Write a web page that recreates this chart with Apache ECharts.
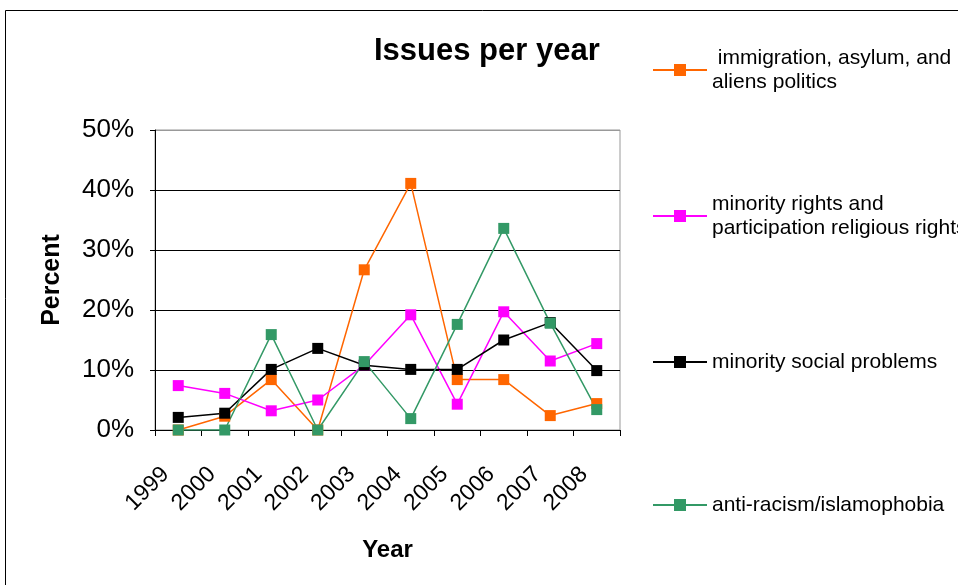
<!DOCTYPE html>
<html>
<head>
<meta charset="utf-8">
<script src="https://cdn.jsdelivr.net/npm/echarts@6/dist/echarts.min.js"></script>
<style>
  html, body { margin: 0; padding: 0; background: #fff; }
  #chart { width: 958px; height: 585px; }
</style>
</head>
<body>
<div id="chart"></div>
<script>
// Share of issues per year, in percent
const years = ['1999', '2000', '2001', '2002', '2003', '2004', '2005', '2006', '2007', '2008'];
const immigration = [0, 2.3, 8.4, 0, 26.7, 41.1, 8.4, 8.4, 2.4, 4.4];
const minorityRights = [7.4, 6.1, 3.2, 5.0, 10.8, 19.2, 4.3, 19.7, 11.5, 14.4];
const socialProblems = [2.1, 2.8, 10.1, 13.6, 10.8, 10.1, 10.1, 15.0, 17.9, 9.9];
const antiRacism = [0, 0, 15.9, 0, 11.4, 1.9, 17.6, 33.6, 17.8, 3.4];
const yTicks = [0, 10, 20, 30, 40, 50];

const seriesDefs = [
  { name: 'immigration, asylum, and aliens politics', label: '\u00a0immigration, asylum, and\naliens politics', data: immigration, color: '#FF6600' },
  { name: 'minority rights and participation religious rights', label: 'minority rights and\nparticipation religious rights', data: minorityRights, color: '#FF00FF' },
  { name: 'minority social problems', label: 'minority social problems', data: socialProblems, color: '#000000' },
  { name: 'anti-racism/islamophobia', label: 'anti-racism/islamophobia', data: antiRacism, color: '#339966' }
];

const font = 'Liberation Sans, Arial, sans-serif';
const legendCenters = [70, 216, 362, 505];
const lh = 24;

const chart = echarts.init(document.getElementById('chart'), null, { renderer: 'canvas' });

chart.setOption({
  animation: false,
  backgroundColor: '#fff',
  title: {
    text: 'Issues per year',
    left: 374,
    top: 36,
    padding: 0,
    textStyle: { fontFamily: font, fontSize: 31, fontWeight: 'bold', color: '#000' }
  },
  graphic: [
    {
      type: 'rect',
      shape: { x: 5.5, y: 10.5, width: 1000, height: 1000 },
      style: { fill: 'none', stroke: '#000', lineWidth: 1 },
      silent: true
    }
  ],
  legend: seriesDefs.map((s, i) => {
    const lines = s.label.split('\n').length;
    const blockH = lines === 1 ? lh : lh * lines + lh * (lines - 1);
    return {
      data: [s.name],
      orient: 'vertical',
      left: 652,
      top: legendCenters[i] - blockH / 2,
      padding: 0,
      itemWidth: 54,
      itemHeight: 15,
      itemGap: 5,
      formatter: () => s.label,
      textStyle: {
        fontFamily: font,
        fontSize: 21,
        color: '#000',
        lineHeight: lh,
        padding: lines === 1 ? 0 : [lh * (lines - 1), 0, 0, 0]
      }
    };
  }),
  grid: {
    left: 155,
    right: 338,
    top: 130,
    bottom: 155,
    show: true,
    borderColor: '#999',
    borderWidth: 1
  },
  xAxis: {
    type: 'category',
    data: years,
    boundaryGap: true,
    name: 'Year',
    nameLocation: 'middle',
    nameGap: 108,
    nameTextStyle: { fontFamily: font, fontSize: 24, fontWeight: 'bold', color: '#000' },
    axisLine: { lineStyle: { color: '#000', width: 1 } },
    axisTick: { show: true, length: 6, lineStyle: { color: '#000' } },
    axisLabel: {
      rotate: 45,
      margin: 28,
      interval: 0,
      padding: [0, 18, 0, 0],
      fontFamily: font,
      fontSize: 23,
      color: '#000'
    },
    splitLine: { show: false }
  },
  yAxis: {
    type: 'value',
    min: yTicks[0],
    max: yTicks[yTicks.length - 1],
    interval: 10,
    name: 'Percent',
    nameLocation: 'middle',
    nameGap: 90,
    nameTextStyle: { fontFamily: font, fontSize: 25, fontWeight: 'bold', color: '#000' },
    axisLine: { show: true, lineStyle: { color: '#000', width: 1 } },
    axisTick: { show: true, length: 5, lineStyle: { color: '#000' } },
    axisLabel: {
      margin: 21,
      fontFamily: font,
      fontSize: 26,
      color: '#000',
      formatter: v => v + '%'
    },
    splitLine: {
      show: true,
      lineStyle: { color: ['#000', '#000', '#000', '#000', '#000', '#999'], width: 1 }
    }
  },
  series: seriesDefs.map(s => ({
    name: s.name,
    type: 'line',
    data: s.data,
    symbol: 'rect',
    symbolSize: 11,
    showAllSymbol: true,
    lineStyle: { color: s.color, width: 1.5 },
    itemStyle: { color: s.color, borderWidth: 0 },
    emphasis: { disabled: true }
  }))
});
</script>
</body>
</html>
